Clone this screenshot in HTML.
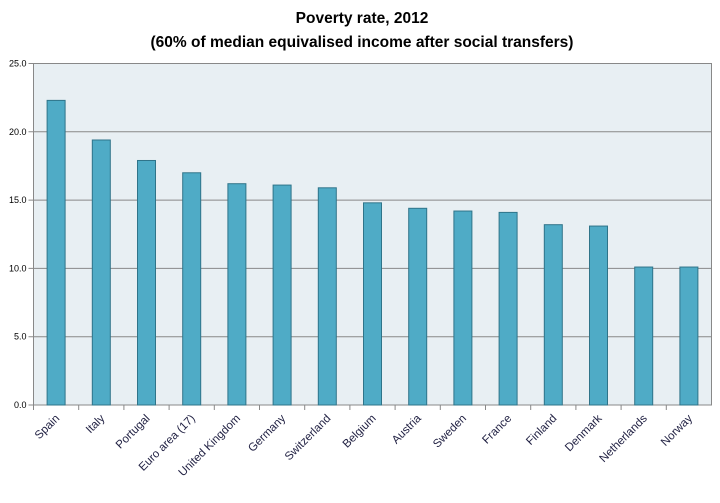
<!DOCTYPE html>
<html><head><meta charset="utf-8"><style>
body{margin:0;background:#fff;}
svg text{font-family:"Liberation Sans",sans-serif;}
</style></head><body>
<svg id="chart" width="720" height="498" xmlns="http://www.w3.org/2000/svg">
<text x="362" y="23" text-anchor="middle" font-size="15.5" font-weight="bold" fill="#000">Poverty rate, 2012</text>
<text x="362" y="47" text-anchor="middle" font-size="15.5" font-weight="bold" fill="#000">(60% of median equivalised income after social transfers)</text>
<rect x="33.5" y="63.5" width="678" height="341.5" fill="#e8eff3" stroke="#888"/>
<g id="grid"></g><g id="bars"></g><g id="axes"></g>
</svg>
<script>
const categories=["Spain","Italy","Portugal","Euro area (17)","United Kingdom","Germany","Switzerland","Belgium","Austria","Sweden","France","Finland","Denmark","Netherlands","Norway"];
const values=[22.3,19.4,17.9,17.0,16.2,16.1,15.9,14.8,14.4,14.2,14.1,13.2,13.1,10.1,10.1];
const yTicks=[0,5,10,15,20,25];
const yTickLabels=["0.0","5.0","10.0","15.0","20.0","25.0"];
const NS="http://www.w3.org/2000/svg";
const L=33.5,R=711.5,T=63.5,B=405,yMax=25;
const y=v=>B-(v/yMax)*(B-T);
const bw=(R-L)/categories.length;
const x=i=>L+bw*i+bw/2;
function mk(tag,attrs,parent){const e=document.createElementNS(NS,tag);for(const k in attrs)e.setAttribute(k,attrs[k]);document.getElementById(parent).appendChild(e);return e;}
yTicks.forEach((t,i)=>{
  const g=mk("line",{x1:L-5,x2:R,y1:y(t),y2:y(t),stroke:"#888","stroke-width":1},"grid");
  
  
  const tx=mk("text",{x:L-7,y:y(t)+3,"text-anchor":"end","font-size":9,fill:"#000"},"axes");
  tx.textContent=yTickLabels[i];
  
  
});
categories.forEach((c,i)=>{
  const r=mk("rect",{x:x(i)-9,y:y(values[i]),width:18,height:B-y(values[i]),fill:"#4fabc6",stroke:"#2f7489","stroke-width":1},"bars");
  
  
  const tk=mk("line",{x1:L+bw*i,x2:L+bw*i,y1:B,y2:B+5,stroke:"#888"},"axes");
  
  
  const t=mk("text",{x:x(i)+4,y:B+14,"text-anchor":"end","font-size":11.5,fill:"#222244",transform:`rotate(-45 ${x(i)+4} ${B+14})`},"axes");
  t.textContent=c;
  
  
});
</script>
</body></html>
